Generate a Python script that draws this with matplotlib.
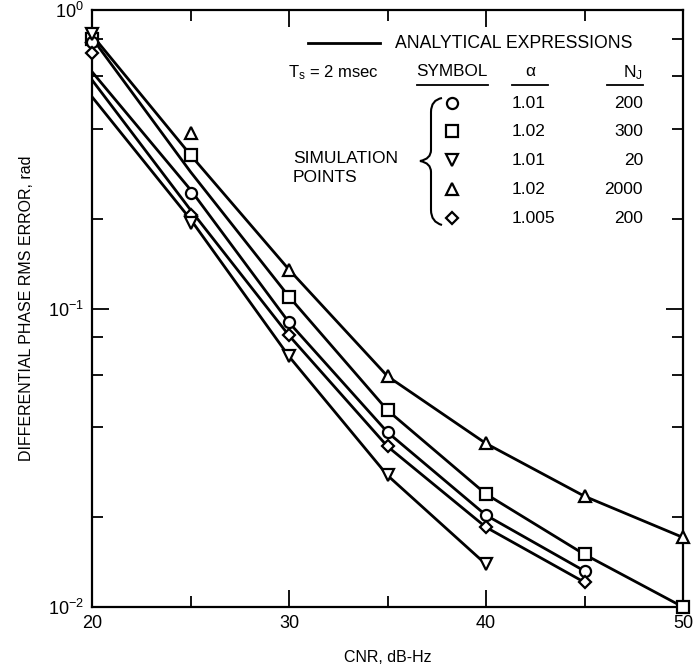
import numpy as np
import matplotlib
matplotlib.use('Agg')
import matplotlib.pyplot as plt
from matplotlib.path import Path
from matplotlib.patches import PathPatch
from matplotlib.ticker import LogLocator, FixedLocator, NullFormatter

plt.rcParams['font.family'] = ['Liberation Sans', 'DejaVu Sans']
plt.rcParams['mathtext.fontset'] = 'custom'
plt.rcParams['mathtext.rm'] = 'Liberation Sans'
plt.rcParams['mathtext.it'] = 'Liberation Sans:italic'

# CNR, dB-Hz
cnr = [20, 25, 30, 35, 40, 45, 50]

# analytical curves
line_tri_up = [0.825, 0.327, 0.135, 0.0593, 0.0353, 0.0235, 0.0171]
line_square = [0.806, 0.287, 0.1096, 0.0456, 0.0239, 0.0150, 0.0100]
line_circle = [0.621, 0.250, 0.0898, 0.0385, 0.0203, 0.0132]
line_diamond = [0.583, 0.214, 0.0812, 0.0345, 0.0185, 0.0121]
line_tri_down = [0.512, 0.199, 0.0691, 0.0276, 0.0139]

# simulation points
sim_tri_up = [0.818, 0.388, 0.135, 0.0593, 0.0353, 0.0235, 0.0171]
sim_square = [0.800, 0.327, 0.1096, 0.0456, 0.0239, 0.0150, 0.0100]
sim_circle = [0.782, 0.244, 0.0898, 0.0385, 0.0203, 0.0132]
sim_diamond = [0.718, 0.206, 0.0812, 0.0345, 0.0185, 0.0121]
sim_tri_down = [0.831, 0.194, 0.0691, 0.0276, 0.0139]

# legend table
symbols = ['o', 's', 'v', '^', 'D']
alphas = ['1.01', '1.02', '1.01', '1.02', '1.005']
nj = ['200', '300', '20', '2000', '200']

W, H = 695, 666
fig = plt.figure(figsize=(W / 100, H / 100), dpi=100)
L, R, T, B = 92, 683, 10, 607
ax = fig.add_axes([L / W, 1 - B / H, (R - L) / W, (B - T) / H])

def px(x, y):
    # pixel position -> axes fraction
    return (x - L) / (R - L), (B - y) / (B - T)

lines = [line_tri_up, line_square, line_circle, line_diamond, line_tri_down]
sims = [sim_tri_up, sim_square, sim_circle, sim_diamond, sim_tri_down]
marks = ['^', 's', 'o', 'D', 'v']
for ln, sm, mk in zip(lines, sims, marks):
    ax.plot(cnr[:len(ln)], ln, color='black', lw=2, zorder=2)
    ms = 6.5 if mk == 'D' else 8
    ax.plot(cnr[:len(sm)], sm, linestyle='none', marker=mk, ms=ms, mfc='white',
            mec='black', mew=1.6, zorder=3, clip_on=False)

ax.set_yscale('log')
ax.set_xlim(20, 50)
ax.set_ylim(0.01, 1.0)
ax.xaxis.set_major_locator(FixedLocator([20, 30, 40, 50]))
ax.xaxis.set_minor_locator(FixedLocator([25, 35, 45]))
ax.yaxis.set_major_locator(LogLocator(base=10, numticks=5))
ax.yaxis.set_minor_locator(LogLocator(base=10, subs=[2, 4, 6, 8], numticks=10))
ax.yaxis.set_minor_formatter(NullFormatter())
ax.tick_params(which='both', direction='in', top=True, right=True, width=1.3,
               labelsize=13, colors='black')
ax.tick_params(which='major', length=12, pad=6)
ax.tick_params(which='minor', length=8)
for s in ax.spines.values():
    s.set_linewidth(1.6)

ax.set_xlabel('CNR, dB-Hz', fontsize=11.5, labelpad=13)
ax.set_ylabel('DIFFERENTIAL PHASE RMS ERROR, rad', fontsize=11.5, labelpad=10)

# legend drawn inside the axes
tr = ax.transAxes
x0, y0 = px(308, 43)
x1, _ = px(380, 43)
ax.plot([x0, x1], [y0, y0], color='black', lw=2, transform=tr)
ax.text(*px(395, 43), 'ANALYTICAL EXPRESSIONS', fontsize=12.7, va='center', transform=tr)
ax.text(*px(288, 73), 'T$_{\\mathregular{s}}$ = 2 msec', fontsize=12, va='center', transform=tr)
ax.text(*px(452, 71), 'SYMBOL', fontsize=12.3, va='center', ha='center', transform=tr)
ax.text(*px(530, 71), 'α', fontsize=12.5, va='center', ha='center', transform=tr)
ax.text(*px(643, 73), 'N$_{\\mathregular{J}}$', fontsize=12.5, va='center', ha='right', transform=tr)
for a, b in [(417, 488), (512, 548), (607, 643)]:
    xa, yu = px(a, 85)
    xb, _ = px(b, 85)
    ax.plot([xa, xb], [yu, yu], color='black', lw=1.3, transform=tr)

row_y = [103, 131, 160, 189, 218]
for mk, a, n, yy in zip(symbols, alphas, nj, row_y):
    ms = 6.5 if mk == 'D' else 8
    ax.plot(*px(452, yy), marker=mk, ms=ms, mfc='white', mec='black', mew=1.6,
            transform=tr)
    ax.text(*px(512, yy), a, fontsize=12.5, va='center', transform=tr)
    ax.text(*px(643, yy), n, fontsize=12.5, va='center', ha='right', transform=tr)

ax.text(*px(293, 158), 'SIMULATION', fontsize=12.5, va='center', transform=tr)
ax.text(*px(293, 177), 'POINTS', fontsize=12.5, va='center', transform=tr)

# curly brace
bp = [(442, 98), (431, 100), (431, 112), (431, 150), (431, 159), (420, 161),
      (431, 163), (431, 172), (431, 210), (431, 222), (442, 225)]
codes = [Path.MOVETO, Path.CURVE3, Path.CURVE3, Path.LINETO, Path.CURVE3, Path.CURVE3,
         Path.CURVE3, Path.CURVE3, Path.LINETO, Path.CURVE3, Path.CURVE3]
brace = Path([px(x, y) for x, y in bp], codes)
ax.add_patch(PathPatch(brace, fc='none', ec='black', lw=1.5, transform=tr))

fig.savefig('out.png', dpi=100)
